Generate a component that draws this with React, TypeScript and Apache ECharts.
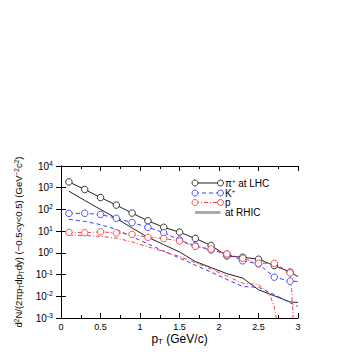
import React, { useEffect, useRef } from "react";
import * as echarts from "echarts";

// LHC points (with circles)
const xPoints = [0.1, 0.3, 0.5, 0.7, 0.9, 1.1, 1.3, 1.5, 1.7, 1.9, 2.1, 2.3, 2.5, 2.7, 2.9];
const pionLHC = [1850, 830, 355, 158, 68, 30, 15, 9.0, 4.6, 2.2, 0.72, 0.63, 0.51, 0.26, 0.13];
const pionLHCEnd = [3.0, 0.081];
const kaonLHC = [66, 66, 59, 39, 25, 15, 8.5, 3.9, 2.1, 1.35, 0.89, 0.43, 0.31, 0.076, 0.05];
const kaonLHCEnd = [3.0, 0.048];
const protonLHC = [8.8, 8.5, 9.3, 8.3, 7.1, 5.2, 4.6, 3.5, 2.0, 1.5, 0.89, 0.56, 0.33, 0.33, 0.12];
const protonLHCTail = [
  [2.92, 0.02],
  [2.94, 0.0007],
];

// RHIC curves (no markers)
const rhicX = [0.1, 0.3, 0.5, 0.7, 0.9, 1.1, 1.3, 1.5, 1.7, 1.9, 2.1, 2.3, 2.5, 2.7, 2.9, 3.0];
const pionRHIC = [690, 260, 100, 39, 14, 5.2, 2.4, 1.1, 0.4, 0.21, 0.11, 0.069, 0.02, 0.0105, 0.0055, 0.0052];
const kaonRHIC = [35, 28, 20, 12, 5.5, 2.6, 1.2, 0.58, 0.27, 0.13, 0.06, 0.028, 0.026, 0.012, 0.005, 0.0034];
const protonRHICX = [0.1, 0.3, 0.5, 0.7, 0.9, 1.1, 1.3, 1.5, 1.7, 1.9, 2.1, 2.3, 2.5, 2.6, 2.65, 2.7, 2.73];
const protonRHIC = [6.6, 6.3, 5.8, 4.8, 3.2, 1.9, 1.15, 0.68, 0.35, 0.18, 0.085, 0.04, 0.035, 0.018, 0.01, 0.0032, 0.0008];

const xTicks = [0, 0.5, 1, 1.5, 2, 2.5, 3];
const legendLabels = ["π{sup|+} at LHC", "K{sup|+}", "p", "at RHIC"];

const FONT = "Liberation Sans";
const BLACK = "#222222";
const BLUE = "#3c3cff";
const RED = "#ff3c3c";

export default function App() {
  const ref = useRef<HTMLDivElement>(null);
  useEffect(() => {
    if (!ref.current) return;
    const chart = echarts.init(ref.current, undefined, { renderer: "svg" });
    const pair = (xs: number[], ys: number[]) => xs.map((x, i) => [x, ys[i]]);
    const supRich = {
      sup: { fontSize: 7, lineHeight: 7, verticalAlign: "top", fontFamily: FONT, color: "#000" },
    };
    const nameRich = (s: number) => ({
      sup: { fontSize: s, lineHeight: s, verticalAlign: "top", fontFamily: FONT, color: "#000" },
      sub: { fontSize: s, lineHeight: s, verticalAlign: "bottom", fontFamily: FONT, color: "#000" },
    });
    const axisLine = { show: true, lineStyle: { color: "#000", width: 1 } };

    const lhcSeries = (name: string, ys: number[], extra: number[][], color: string, dash: any) => ({
      name,
      type: "line",
      data: [
        ...pair(xPoints, ys).map((v) => ({ value: v })),
        ...extra.map((v) => ({ value: v, symbol: "none" })),
      ],
      symbol: "circle",
      symbolSize: 6.5,
      showAllSymbol: true,
      lineStyle: { color, width: 1, type: dash },
      itemStyle: { color: "#ffffff", borderColor: color, borderWidth: 0.9 },
      z: 3,
    });
    const rhicSeries = (name: string, xs: number[], ys: number[], color: string, dash: any) => ({
      name,
      type: "line",
      data: pair(xs, ys),
      symbol: "none",
      lineStyle: { color, width: 1, type: dash },
      z: 2,
    });

    const lx1 = 195,
      lx2 = 220.5,
      ltx = 225;
    const rows = [183, 193, 202.5, 212.5];
    const legendGraphics: any[] = [];
    const legendStyles = [
      { color: BLACK, dash: undefined, circles: true },
      { color: BLUE, dash: [4, 3], circles: true },
      { color: RED, dash: [4, 2, 1, 2], circles: true },
      { color: "#aaaaaa", dash: undefined, circles: false },
    ];
    legendStyles.forEach((s, i) => {
      const y = rows[i];
      legendGraphics.push({
        type: "line",
        shape: { x1: lx1, y1: y, x2: lx2, y2: y },
        style: { stroke: s.color, lineWidth: s.circles ? 1 : 3, lineDash: s.dash },
        z: 10,
      });
      if (s.circles) {
        [lx1, lx2].forEach((cx) =>
          legendGraphics.push({
            type: "circle",
            shape: { cx, cy: y, r: 3 },
            style: { fill: "#fff", stroke: s.color, lineWidth: 0.9 },
            z: 11,
          })
        );
      }
      legendGraphics.push({
        type: "text",
        x: ltx,
        y,
        style: {
          text: legendLabels[i],
          fontSize: 10,
          fontFamily: FONT,
          fill: "#000",
          verticalAlign: "middle",
          rich: { sup: { fontSize: 6, lineHeight: 6, verticalAlign: "top", fontFamily: FONT, fill: "#000" } },
        },
        z: 11,
      });
    });

    chart.setOption({
      animation: false,
      backgroundColor: "#fff",
      grid: { left: 61, right: 62, top: 166, bottom: 42, show: false },
      xAxis: [
        {
          type: "value",
          min: 0,
          max: 3,
          interval: 0.5,
          axisLine,
          axisTick: { show: true, inside: true, length: 5, lineStyle: { color: "#000" } },
          minorTick: { show: true, splitNumber: 2, length: 3, lineStyle: { color: "#000" } },
          splitLine: { show: false },
          axisLabel: {
            fontSize: 9,
            fontFamily: FONT,
            color: "#000",
            margin: 4,
            customValues: xTicks,
            formatter: (v: number) => String(v),
          },
          name: "p{sub|T} (GeV/c)",
          nameLocation: "middle",
          nameGap: 13,
          nameTextStyle: {
            fontSize: 12,
            fontFamily: FONT,
            color: "#000",
            lineHeight: 14,
            rich: nameRich(8),
          },
        },
        {
          type: "value",
          position: "top",
          min: 0,
          max: 3,
          interval: 0.5,
          axisLine,
          axisTick: { show: true, inside: true, length: 5, lineStyle: { color: "#000" } },
          minorTick: { show: true, splitNumber: 2, length: 3, lineStyle: { color: "#000" } },
          splitLine: { show: false },
          axisLabel: { show: false },
        },
      ],
      yAxis: [
        {
          type: "log",
          logBase: 10,
          min: 0.001,
          max: 10000,
          interval: 1,
          axisLine,
          axisTick: { show: true, inside: true, length: 5, lineStyle: { color: "#000" } },
          splitLine: { show: false },
          axisLabel: {
            fontSize: 10,
            fontFamily: FONT,
            color: "#000",
            margin: 8,
            lineHeight: 12,
            formatter: (v: number) => `10{sup|${Math.round(Math.log10(v))}}`,
            rich: supRich,
          },
          name: "d{sup|2}N/(2πp{sub|T}dp{sub|T}dy) (−0.5<y<0.5) (GeV{sup|−2}c{sup|2})",
          nameLocation: "middle",
          nameRotate: 90,
          nameGap: 29,
          nameTextStyle: {
            fontSize: 9.5,
            fontFamily: FONT,
            color: "#000",
            lineHeight: 12,
            rich: nameRich(6.5),
          },
        },
        {
          type: "log",
          logBase: 10,
          position: "right",
          min: 0.001,
          max: 10000,
          interval: 1,
          axisLine,
          axisTick: { show: true, inside: true, length: 5, lineStyle: { color: "#000" } },
          splitLine: { show: false },
          axisLabel: { show: false },
        },
      ],
      series: [
        rhicSeries("π+ at RHIC", rhicX, pionRHIC, BLACK, "solid"),
        rhicSeries("K+ at RHIC", rhicX, kaonRHIC, BLUE, [4, 3]),
        rhicSeries("p at RHIC", protonRHICX, protonRHIC, RED, [4, 2, 1, 2]),
        lhcSeries("π+ at LHC", pionLHC, [pionLHCEnd], BLACK, "solid"),
        lhcSeries("K+ at LHC", kaonLHC, [kaonLHCEnd], BLUE, [4, 3]),
        lhcSeries("p at LHC", protonLHC, protonLHCTail, RED, [4, 2, 1, 2]),
      ],
      graphic: legendGraphics,
    });
    return () => chart.dispose();
  }, []);
  return (
    <div
      ref={ref}
      style={{ position: "absolute", left: 0, top: 0, width: 360, height: 360, background: "#fff" }}
    />
  );
}
